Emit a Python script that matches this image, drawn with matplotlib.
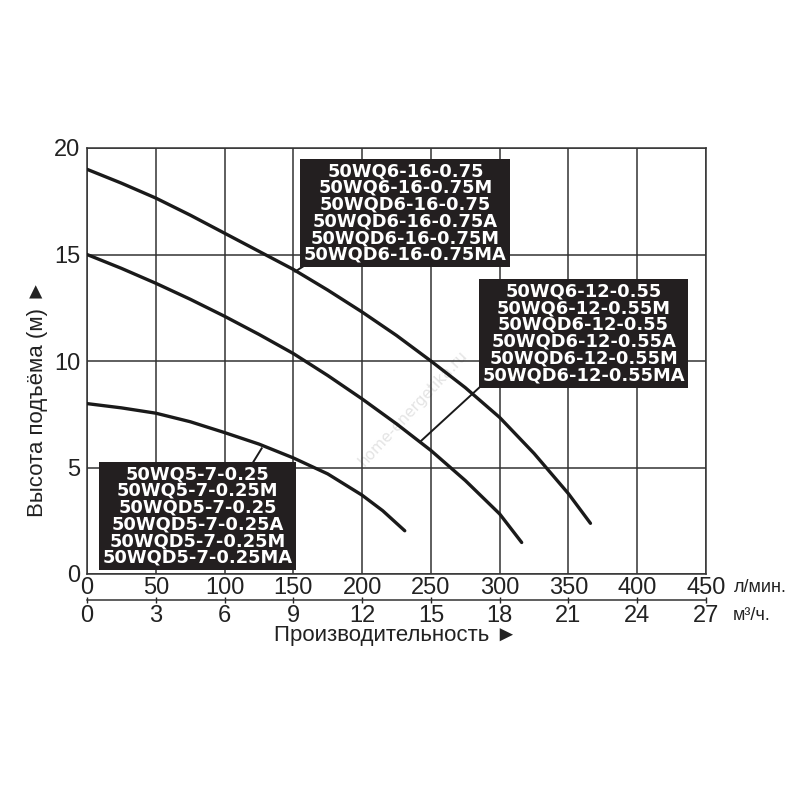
import matplotlib
matplotlib.use("Agg")
import matplotlib.pyplot as plt

# Flow (l/min) vs head (m)
flow_16 = [0, 25, 50, 75, 100, 125, 150, 175, 200, 225, 250, 275, 300, 325, 350, 366]
head_16 = [19.0, 18.35, 17.65, 16.85, 16.0, 15.15, 14.3, 13.33, 12.3, 11.2, 10.0, 8.75, 7.35, 5.66, 3.77, 2.38]

flow_12 = [0, 25, 50, 75, 100, 125, 150, 175, 200, 225, 250, 275, 300, 316]
head_12 = [15.0, 14.35, 13.65, 12.9, 12.1, 11.25, 10.35, 9.32, 8.22, 7.05, 5.8, 4.39, 2.82, 1.48]

flow_7 = [0, 25, 50, 75, 100, 125, 150, 175, 200, 215, 231]
head_7 = [8.0, 7.8, 7.55, 7.15, 6.64, 6.1, 5.45, 4.7, 3.7, 2.97, 2.03]

labels_16 = ["50WQ6-16-0.75", "50WQ6-16-0.75M", "50WQD6-16-0.75",
             "50WQD6-16-0.75A", "50WQD6-16-0.75M", "50WQD6-16-0.75MA"]
labels_12 = ["50WQ6-12-0.55", "50WQ6-12-0.55M", "50WQD6-12-0.55",
             "50WQD6-12-0.55A", "50WQD6-12-0.55M", "50WQD6-12-0.55MA"]
labels_7 = ["50WQ5-7-0.25", "50WQ5-7-0.25M", "50WQD5-7-0.25",
            "50WQD5-7-0.25A", "50WQD5-7-0.25M", "50WQD5-7-0.25MA"]

x_ticks = [0, 50, 100, 150, 200, 250, 300, 350, 400, 450]
m3h_ticks = [0, 3, 6, 9, 12, 15, 18, 21, 24, 27]
y_ticks = [0, 5, 10, 15, 20]

plt.rcParams['font.family'] = ['Liberation Sans', 'DejaVu Sans']
line_col = '#1a1a1a'
box_col = '#231f20'
txt_col = '#222222'

fig = plt.figure(figsize=(8, 8), dpi=100)
ax = fig.add_axes([0.10875, 0.2825, 0.77375, 0.5325])
ax.set_xlim(0, 450)
ax.set_ylim(0, 20)
ax.set_xticks(x_ticks)
ax.set_yticks(y_ticks)
ax.tick_params(axis='both', length=0, labelsize=17, colors=txt_col)
ax.tick_params(axis='x', pad=2)
ax.tick_params(axis='y', pad=5)
ax.grid(True, color='#333333', linewidth=1.1)
for s in ax.spines.values():
    s.set_color('#333333')
    s.set_linewidth(1.1)

# pump curves
for q, h in [(flow_16, head_16), (flow_12, head_12), (flow_7, head_7)]:
    ax.plot(q, h, color=line_col, linewidth=2.4, solid_capstyle='round',
            solid_joinstyle='round', zorder=3)

# watermark
ax.text(237, 7.8, "home-energetika.ru", rotation=47, fontsize=11,
        color='#e4e4e4', ha='center', va='center', zorder=1,
        family=['DejaVu Sans'])

box_kw = dict(boxstyle='square,pad=0.2', facecolor=box_col, edgecolor='none')
text_kw = dict(color='white', fontsize=12.9, fontweight='bold', ha='center',
               va='center', multialignment='center', linespacing=0.91,
               family=['DejaVu Sans'], zorder=5)

# leader lines
ax.plot([156.9, 151.3], [14.43, 14.2], color=line_col, linewidth=1.4, zorder=4)
ax.plot([285.8, 242.2], [8.79, 6.21], color=line_col, linewidth=1.4, zorder=4)
ax.plot([121.0, 127.0], [5.27, 5.9], color=line_col, linewidth=1.4, zorder=4)

ax.text(231.5, 16.95, "\n".join(labels_16), bbox=box_kw, **text_kw)
ax.text(361.0, 11.3, "\n".join(labels_12), bbox=box_kw, **text_kw)
ax.text(80.5, 2.72, "\n".join(labels_7), bbox=box_kw, **text_kw)

# second flow axis in m3/h
sec = ax.secondary_xaxis(-0.061, functions=(lambda q: q * 0.06, lambda m: m / 0.06))
sec.set_xticks(m3h_ticks)
sec.tick_params(direction='inout', length=5, width=1.0, labelsize=17,
                colors=txt_col, pad=1)
sec.spines['bottom'].set_linewidth(1.1)
sec.spines['bottom'].set_color('#333333')

fig.text(0.918, 0.265, "л/мин.", fontsize=13, ha='left', va='center', color=txt_col)
fig.text(0.916, 0.231, "м³/ч.", fontsize=13, ha='left', va='center', color=txt_col)

fig.text(0.494, 0.205, "Производительность ►", fontsize=16, ha='center',
         va='center', color=txt_col)
fig.text(0.047, 0.5025, "Высота подъёма (м) ►", fontsize=16, rotation=90,
         ha='center', va='center', color=txt_col)

fig.savefig("out.png", dpi=100, facecolor='white')
